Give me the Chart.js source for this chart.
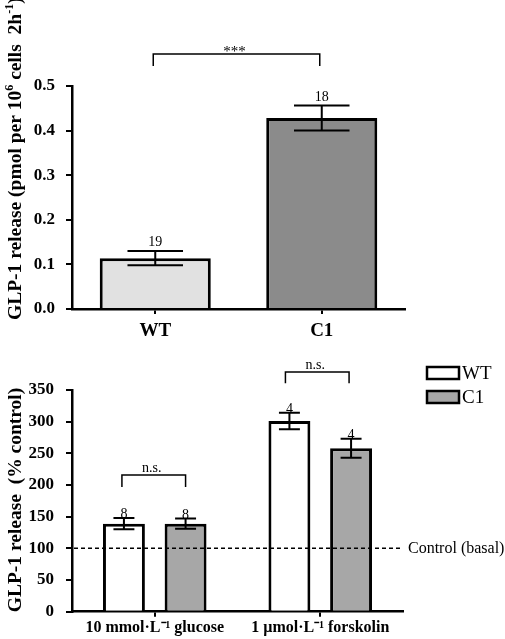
<!DOCTYPE html>
<html><head><meta charset="utf-8">
<script src="https://cdn.jsdelivr.net/npm/chart.js@4"></script>
<style>
html,body{margin:0;padding:0;background:#fff;width:505px;height:639px;overflow:hidden;position:relative}
canvas{position:absolute;left:0}
</style></head>
<body>
<canvas id="c1" width="505" height="340" style="top:0"></canvas>
<canvas id="c2" width="505" height="299" style="top:340px"></canvas>
<script>
// ---------- data ----------
const topCategories = ['WT', 'C1'];
const topMeans = [0.114, 0.428];
const topSem = [0.016, 0.028];
const topN = ['19', '18'];
const topTickLabels = ['0.0', '0.1', '0.2', '0.3', '0.4', '0.5'];
const topColors = ['#e1e1e1', '#8b8b8b'];

const bottomCategories = ['10 mmol·L⁻¹ glucose', '1 µmol·L⁻¹ forskolin'];
const seriesNames = ['WT', 'C1'];
const wtMeans = [139, 301];
const wtSem = [9, 13];
const c1Means = [139, 258];
const c1Sem = [8, 15];
const wtN = ['8', '4'];
const c1N = ['8', '4'];
const bottomTickLabels = ['0', '50', '100', '150', '200', '250', '300', '350'];
const bottomColors = ['#ffffff', '#a7a7a7'];
const controlLevel = 100;

const SERIF = "'Liberation Serif','Times New Roman',serif";

function fontStr(size, bold) { return (bold ? 'bold ' : '') + size + 'px ' + SERIF; }
function drawRich(ctx, segs, x, y, size, bold, align) {
  let total = 0;
  segs.forEach(s => {
    ctx.font = fontStr(s.sup ? Math.round(size * 0.62) : size, bold);
    s.w = ctx.measureText(s.t).width; total += s.w;
  });
  let cx = align === 'center' ? x - total / 2 : x;
  ctx.textAlign = 'left'; ctx.textBaseline = 'alphabetic';
  segs.forEach(s => {
    ctx.font = fontStr(s.sup ? Math.round(size * 0.62) : size, bold);
    ctx.fillText(s.t, cx, s.sup ? y - size * 0.38 : y);
    cx += s.w;
  });
}

function drawErrorBars(chart, sems, labels, gap, nFont) {
  const ctx = chart.ctx, y = chart.scales.y;
  ctx.save();
  ctx.strokeStyle = '#000'; ctx.fillStyle = '#000'; ctx.lineWidth = 2;
  chart.data.datasets.forEach((ds, di) => {
    const meta = chart.getDatasetMeta(di);
    meta.data.forEach((el, i) => {
      const m = ds.data[i], e = sems[di][i];
      const yt = y.getPixelForValue(m + e), yb = y.getPixelForValue(m - e);
      const hw = el.width / 4;
      ctx.beginPath();
      ctx.moveTo(el.x, yt); ctx.lineTo(el.x, yb);
      ctx.moveTo(el.x - hw, yt); ctx.lineTo(el.x + hw, yt);
      ctx.moveTo(el.x - hw, yb); ctx.lineTo(el.x + hw, yb);
      ctx.stroke();
      ctx.font = fontStr(nFont, false);
      ctx.textAlign = 'center'; ctx.textBaseline = 'alphabetic';
      ctx.fillText(labels[di][i], el.x, yt - gap);
    });
  });
  ctx.restore();
}

function drawBracket(chart, x1, x2, vTop, vSide, text, fontSize, textDy) {
  const ctx = chart.ctx, y = chart.scales.y;
  const yt = y.getPixelForValue(vTop), ys = y.getPixelForValue(vSide);
  ctx.save();
  ctx.strokeStyle = '#000'; ctx.lineWidth = 1.5;
  ctx.beginPath();
  ctx.moveTo(x1, ys); ctx.lineTo(x1, yt); ctx.lineTo(x2, yt); ctx.lineTo(x2, ys);
  ctx.stroke();
  ctx.fillStyle = '#000';
  ctx.font = fontStr(fontSize, false);
  ctx.textAlign = 'center'; ctx.textBaseline = 'alphabetic';
  ctx.fillText(text, (x1 + x2) / 2 - 2, yt + textDy);
  ctx.restore();
}

function axisCfg(extra) {
  return Object.assign({
    border: { display: true, color: '#000', width: 2.5 }
  }, extra);
}

// ---------- top chart ----------
new Chart(document.getElementById('c1'), {
  type: 'bar',
  data: {
    labels: topCategories,
    datasets: [{ data: topMeans, backgroundColor: topColors, borderColor: '#000', borderWidth: 3,
      barPercentage: 0.667, categoryPercentage: 1 }]
  },
  options: {
    responsive: false, animation: false,
    layout: { padding: { top: 86, right: 100, left: 0, bottom: 0 } },
    plugins: { legend: { display: false }, tooltip: { enabled: false } },
    scales: {
      x: axisCfg({
        grid: { display: true, drawOnChartArea: false, drawTicks: true, tickLength: 5, color: '#000', lineWidth: 2, offset: false },
        ticks: { color: '#000', font: { family: SERIF, size: 19, weight: 'bold' }, padding: 6 },
        afterFit(s) { s.height = 31; }
      }),
      y: axisCfg({
        min: 0, max: 0.5,
        grid: { display: true, drawOnChartArea: false, drawTicks: true, tickLength: 6, color: '#000', lineWidth: 2 },
        ticks: { stepSize: 0.1, color: '#000', font: { family: SERIF, size: 17, weight: 'bold' }, padding: 11,
          callback: (v, i) => topTickLabels[i] },
        afterFit(s) { s.width = 72; }
      })
    }
  },
  plugins: [{
    id: 'extrasTop',
    afterDatasetsDraw(chart) {
      drawErrorBars(chart, [topSem], [topN], 5, 14);
      const x = chart.scales.x;
      drawBracket(chart, x.getPixelForValue(0) - 2, x.getPixelForValue(1) - 2, 0.572, 0.545, '***', 15, 2);
      const ctx = chart.ctx;
      ctx.save();
      ctx.fillStyle = '#000';
      ctx.translate(20.5, 320); ctx.rotate(-Math.PI / 2);
      drawRich(ctx, [{ t: 'GLP-1 release (pmol per 10' }, { t: '6', sup: true }, { t: ' cells  2h' }, { t: '-1', sup: true }, { t: ')' }], 0, 0, 19.5, true, 'left');
      ctx.restore();
    }
  }]
});

// ---------- bottom chart ----------
new Chart(document.getElementById('c2'), {
  type: 'bar',
  data: {
    labels: bottomCategories,
    datasets: [
      { label: seriesNames[0], data: wtMeans, backgroundColor: bottomColors[0], borderColor: '#000', borderWidth: 3,
        barPercentage: 0.68, categoryPercentage: 0.745 },
      { label: seriesNames[1], data: c1Means, backgroundColor: bottomColors[1], borderColor: '#000', borderWidth: 3,
        barPercentage: 0.68, categoryPercentage: 0.745 }
    ]
  },
  options: {
    responsive: false, animation: false,
    layout: { padding: { top: 50, right: 102, left: 0, bottom: 0 } },
    plugins: { legend: { display: false }, tooltip: { enabled: false } },
    scales: {
      x: axisCfg({
        grid: { display: true, drawOnChartArea: false, drawTicks: true, tickLength: 5, color: '#000', lineWidth: 2, offset: false },
        ticks: { color: '#000', font: { family: SERIF, size: 16, weight: 'bold' }, padding: 2, maxRotation: 0, autoSkip: false },
        afterFit(s) { s.height = 27.3; }
      }),
      y: axisCfg({
        min: 0, max: 350,
        grid: { display: true, drawOnChartArea: false, drawTicks: true, tickLength: 6, color: '#000', lineWidth: 2 },
        ticks: { stepSize: 50, color: '#000', font: { family: SERIF, size: 17, weight: 'bold' }, padding: 12,
          callback: (v, i) => bottomTickLabels[i] },
        afterFit(s) { s.width = 72; }
      })
    }
  },
  plugins: [{
    id: 'extrasBottom',
    afterDatasetsDraw(chart) {
      const ctx = chart.ctx, ca = chart.chartArea, y = chart.scales.y;
      // control line
      const yc = y.getPixelForValue(controlLevel);
      ctx.save();
      ctx.strokeStyle = '#000'; ctx.lineWidth = 1.5; ctx.setLineDash([4, 3]);
      ctx.beginPath(); ctx.moveTo(ca.left - 5, yc); ctx.lineTo(ca.right, yc); ctx.stroke();
      ctx.setLineDash([]);
      ctx.fillStyle = '#000'; ctx.font = fontStr(16, false);
      ctx.textAlign = 'left'; ctx.textBaseline = 'middle';
      ctx.fillText('Control (basal)', ca.right + 5, yc);
      ctx.restore();

      drawErrorBars(chart, [wtSem, c1Sem], [wtN, c1N], 0, 14);

      const m0 = chart.getDatasetMeta(0).data, m1 = chart.getDatasetMeta(1).data;
      drawBracket(chart, m0[0].x - 2, m1[0].x, 216, 197, 'n.s.', 14, -3);
      drawBracket(chart, m0[1].x - 4, m1[1].x - 2, 378.6, 360.6, 'n.s.', 14, -3);

      // legend
      ctx.save();
      const lx = 427, ly = [367 - 340, 391 - 340];
      chart.data.datasets.forEach((ds, i) => {
        ctx.fillStyle = ds.backgroundColor;
        ctx.fillRect(lx, ly[i], 32, 12);
        ctx.strokeStyle = '#000'; ctx.lineWidth = 2.5;
        ctx.strokeRect(lx, ly[i], 32, 12);
        ctx.fillStyle = '#000'; ctx.font = fontStr(19, false);
        ctx.textAlign = 'left'; ctx.textBaseline = 'middle';
        ctx.fillText(ds.label, lx + 35, ly[i] + 7);
      });
      // y title
      ctx.fillStyle = '#000';
      ctx.translate(20.5, 500 - 340); ctx.rotate(-Math.PI / 2);
      drawRich(ctx, [{ t: 'GLP-1 release  (% control)' }], 0, 0, 19.5, true, 'center');
      ctx.restore();
    }
  }]
});
</script>
</body></html>
